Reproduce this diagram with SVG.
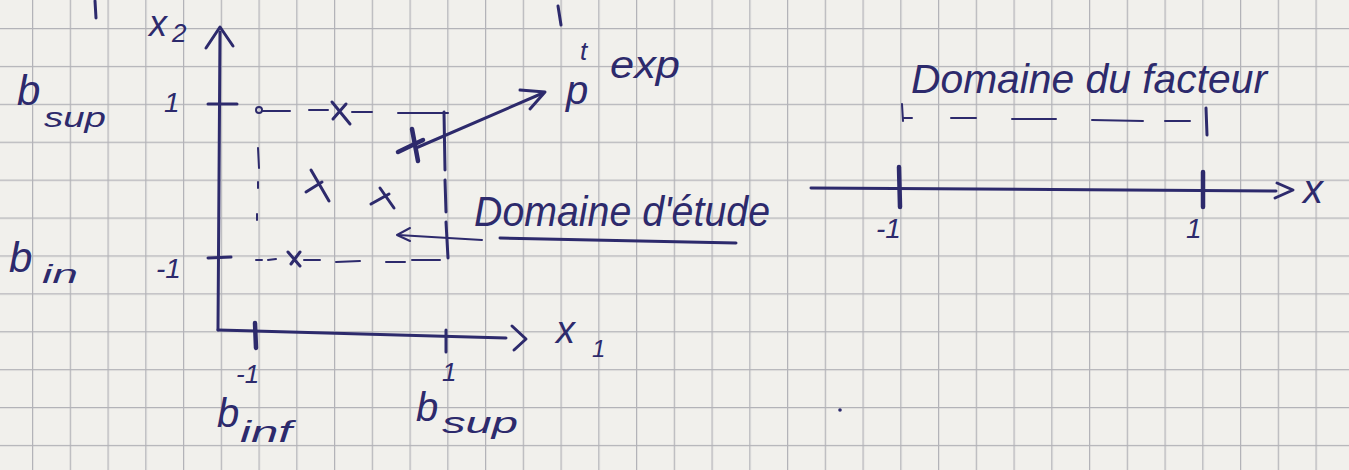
<svg xmlns="http://www.w3.org/2000/svg" width="1349" height="470" viewBox="0 0 1349 470">
<defs>
<pattern id="grid" x="32" y="28" width="37.75" height="37.9" patternUnits="userSpaceOnUse">
<path d="M0.6 0 V37.9 M0 0.6 H37.75" stroke="#b3b3b8" stroke-width="1.3" fill="none"/>
</pattern>
<style>
.ink{stroke:#2d2a6c;stroke-width:3;fill:none;stroke-linecap:round;stroke-linejoin:round}
.bold{stroke-width:4.5}
.thin{stroke-width:2}
.t{font-family:"Liberation Sans","DejaVu Sans",sans-serif;font-style:italic;fill:#2d2a6c}
</style>
</defs>
<rect width="1349" height="470" fill="#f1f0ec"/>
<rect width="1349" height="470" fill="url(#grid)"/>

<!-- cut-off strokes at top -->
<g id="top-fragments">
<path class="ink" d="M95 1 L96 18"/>
<path class="ink" d="M558 6 L561 25"/>
</g>

<!-- left plot -->
<g id="axis-x2">
<path class="ink" d="M218 330 L220 32"/>
<path class="ink" d="M206 48 L220 27 L233 46"/>
<text class="t" x="149" y="36" font-size="36">x</text>
<text class="t" x="172" y="42" font-size="26">2</text>
</g>
<g id="tick-y-1">
<path class="ink" d="M208 104 L237 104"/>
<text class="t" x="164" y="112" font-size="28">1</text>
<text class="t" x="17" y="105" font-size="42">b</text>
<text class="t" x="44" y="127" font-size="28" textLength="62" lengthAdjust="spacingAndGlyphs">sup</text>
</g>
<g id="tick-y-minus1">
<path class="ink" d="M208 258 L231 257"/>
<text class="t" x="156" y="278" font-size="28">-1</text>
<text class="t" x="9" y="272" font-size="42">b</text>
<text class="t" x="42" y="283" font-size="26" textLength="36" lengthAdjust="spacingAndGlyphs">in</text>
</g>
<g id="axis-x1">
<path class="ink" d="M218 330 L506 338"/>
<path class="ink" d="M512 326 L526 339 L514 350"/>
<text class="t" x="556" y="343" font-size="38">x</text>
<text class="t" x="592" y="357" font-size="24">1</text>
</g>
<g id="tick-x-minus1">
<path class="ink bold" d="M255 323 L256 348"/>
<text class="t" x="236" y="383" font-size="26">-1</text>
<text class="t" x="217" y="427" font-size="40">b</text>
<text class="t" x="240" y="442" font-size="30" textLength="52" lengthAdjust="spacingAndGlyphs">inf</text>
</g>
<g id="tick-x-1">
<path class="ink" d="M446 330 L446 352"/>
<text class="t" x="442" y="381" font-size="26">1</text>
<text class="t" x="416" y="421" font-size="40">b</text>
<text class="t" x="442" y="433" font-size="30" textLength="76" lengthAdjust="spacingAndGlyphs">sup</text>
</g>

<g id="domain-study-box">
<circle class="ink thin" cx="259" cy="110" r="3"/>
<path class="ink thin" d="M262 111 L290 111 M309 110 L328 110 M352 112 L372 112 M398 113 L448 113"/>
<path class="ink" d="M444 112 L445 170 M445 180 L446 212 M446 222 L448 258"/>
<path class="ink thin" d="M258 148 L259 168 M258 182 L258 188 M257 214 L257 220"/>
<path class="ink thin" d="M256 260 L262 260 M268 260 L276 259 M304 260 L320 260 M336 262 L360 261 M386 262 L405 262 M412 260 L440 260"/>
</g>

<g id="points">
<path class="ink" d="M332 102 L350 124 M346 104 L333 119"/>
<path class="ink bold" d="M398 152 L423 140 M412 129 L418 161"/>
<path class="ink" d="M311 170 L329 201 M322 182 L306 192"/>
<path class="ink" d="M380 188 L394 208 M371 204 L389 194"/>
<path class="ink" d="M288 252 L300 266 M300 252 L291 264"/>
</g>

<g id="label-point-exp">
<text class="t" x="566" y="104" font-size="40">p</text>
<text class="t" x="580" y="60" font-size="26">t</text>
<text class="t" x="610" y="78" font-size="38" textLength="70" lengthAdjust="spacingAndGlyphs">exp</text>
</g>

<g id="label-domaine-etude">
<text class="t" x="474" y="226" font-size="42" textLength="296" lengthAdjust="spacingAndGlyphs">Domaine d'étude</text>
<path class="ink" d="M500 238 L736 243"/>
</g>

<!-- right plot -->
<g id="factor-domain">
<text class="t" x="911" y="93" font-size="40" textLength="356" lengthAdjust="spacingAndGlyphs">Domaine du facteur</text>
<path class="ink thin" d="M902 104 L903 121 M904 118 L912 118 M951 118 L976 118 M1012 119 L1056 119 M1092 120 L1143 121 M1165 121 L1190 121"/>
<path class="ink" d="M1206 108 L1207 135"/>
</g>
<g id="axis-x">
<path class="ink" d="M811 188 L1276 191"/>
<path class="ink" d="M1277 183 L1293 190 L1275 198"/>
<text class="t" x="1303" y="203" font-size="40">x</text>
</g>
<g id="tick-minus1">
<path class="ink bold" d="M899 167 L900 207"/>
<text class="t" x="876" y="238" font-size="28">-1</text>
</g>
<g id="tick-1">
<path class="ink bold" d="M1203 172 L1203 207"/>
<text class="t" x="1186" y="238" font-size="28">1</text>
</g>
<circle cx="840" cy="410" r="1.8" fill="#2d2a6c"/>

<g id="connectors">
<path class="ink" d="M416 148 L543 93"/>
<path class="ink" d="M520 90 L545 92 L530 109"/>
<path class="ink thin" d="M482 240 L398 235"/>
<path class="ink thin" d="M410 228 L397 235 L410 241"/>
</g>
</svg>
